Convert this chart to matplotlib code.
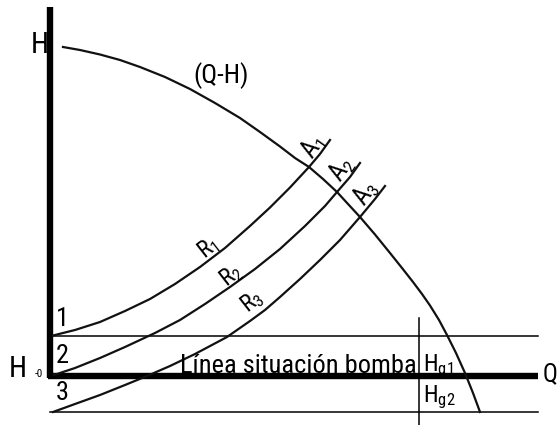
import matplotlib
matplotlib.use('Agg')
import matplotlib.pyplot as plt

# Narrow sans for the labels, DejaVu as fallback
plt.rcParams['font.family'] = ['Roboto Condensed', 'Roboto', 'DejaVu Sans']
plt.rcParams['mathtext.default'] = 'regular'

# Pump curve (Q-H), flow Q against head H
q_pump = [13, 30, 50, 70, 90, 115, 140, 165, 190, 210, 230, 245, 259, 273, 287,
          298, 310, 325, 340, 352, 363, 372, 380, 389, 397, 406, 415, 423, 430]
h_pump = [329, 326, 321.5, 316, 309, 299, 287, 273, 258, 244, 229.5, 218, 209, 197, 184,
          172, 159, 141.5, 123, 108, 94, 82, 70.5, 56, 41, 23, 3, -17, -36]

# System curves R1, R2, R3
q_r1 = [3, 25, 50, 75, 100, 125, 150, 175, 200, 220, 240, 259, 270, 280]
h_r1 = [40.5, 46, 54, 65, 77, 92, 109, 128, 150, 168.5, 188.5, 209, 222, 236]
q_r2 = [4, 25, 50, 75, 105, 130, 155, 180, 205, 230, 255, 275, 287, 300, 310]
h_r2 = [1, 8, 18, 29, 43, 56, 72, 89, 107, 127, 150, 170, 184, 199, 213]
q_r3 = [3, 25, 50, 75, 97, 120, 145, 177, 200, 215, 230, 250, 270, 290, 310, 325, 335]
h_r3 = [-36, -28, -19, -9, 0, 10, 22, 39, 55, 66, 79, 97, 116, 136, 159, 177, 190]

# Static heads: level 1 and level 3 (level 2 is the pump line, H = 0)
h_levels = [40, -36]
q_levels_end = 488
q_hg = 369

fig = plt.figure(figsize=(5.6, 4.25), dpi=100)
ax = fig.add_axes([0, 0, 1, 1])
ax.set_xlim(-50, 510)
ax.set_ylim(-49, 376)
ax.axis('off')

# axes of the diagram
ax.plot([0, 0], [-2, 369], color='black', lw=4.6, solid_capstyle='butt')
ax.plot([-2, q_levels_end], [0, 0], color='black', lw=4.6, solid_capstyle='butt')

# level lines and the Hg marker
for h in h_levels:
    ax.plot([0, q_levels_end], [h, h], color='black', lw=1.1)
ax.plot([q_hg, q_hg], [58, -49], color='black', lw=1.1)

# curves
ax.plot(q_pump, h_pump, color='#111111', lw=1.6)
for q, h in [(q_r1, h_r1), (q_r2, h_r2), (q_r3, h_r3)]:
    ax.plot(q, h, color='#111111', lw=1.6)

fs = 19
ax.text(-10, 331, 'H', fontsize=21, ha='center', va='center')
ax.text(171, 300, '(Q-H)', fontsize=fs, ha='center', va='center')

# operating points, written along the end of each system curve
for lab, x, y in [('A_1', 263, 229), ('A_2', 292, 207), ('A_3', 316, 183)]:
    ax.text(x, y, '$' + lab + '$', fontsize=18, rotation=55,
            ha='center', va='center', rotation_mode='anchor')
for lab, x, y in [('R_1', 158, 128), ('R_2', 181, 101), ('R_3', 202, 75)]:
    ax.text(x, y, '$' + lab + '$', fontsize=17, rotation=38,
            ha='center', va='center', rotation_mode='anchor')

ax.text(6, 57, '1', fontsize=fs, ha='left', va='center')
ax.text(6, 20, '2', fontsize=fs, ha='left', va='center')
ax.text(6, -17, '3', fontsize=fs, ha='left', va='center')

ax.text(-32, 7, 'H', fontsize=21, ha='center', va='center')
ax.text(-11, 2, '-0', fontsize=8, ha='center', va='center')

ax.text(130, 3, 'Línea situación bomba', fontsize=19, ha='left', va='baseline')
ax.text(373, 10, '$H_{g1}$', fontsize=17, ha='left', va='center')
ax.text(373, -21, '$H_{g2}$', fontsize=17, ha='left', va='center')
ax.text(508, 2, 'Q', fontsize=18, ha='right', va='center')

fig.savefig('out.png', dpi=100)
